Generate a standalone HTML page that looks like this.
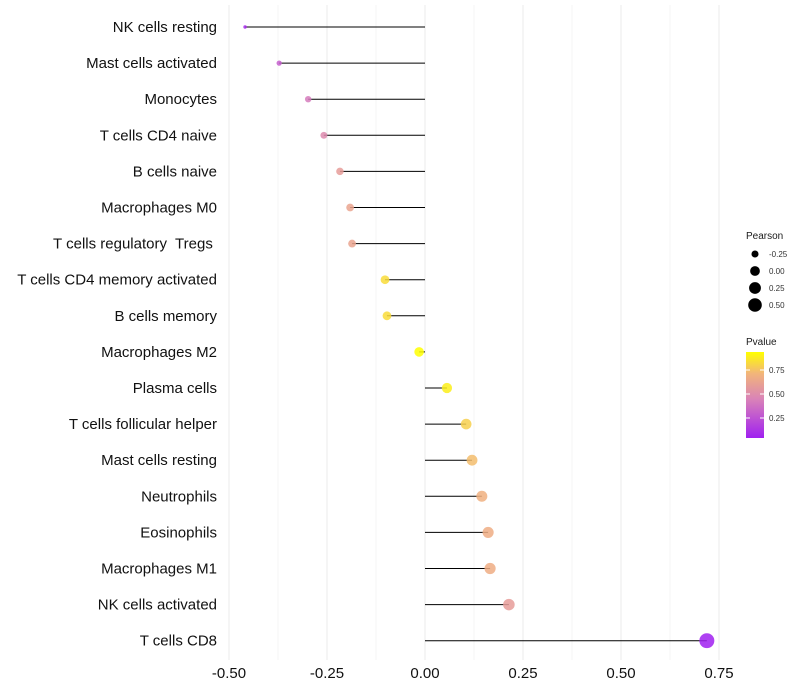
<!DOCTYPE html>
<html><head><meta charset="utf-8"><style>
body{margin:0;background:#fff;font-family:"Liberation Sans",sans-serif}
svg{display:block}
text{white-space:pre}
</style></head><body>
<svg id="chart" width="800" height="700" xmlns="http://www.w3.org/2000/svg">
<g id="grid"></g>
<g id="lines"></g>
<g id="dots"></g>
<g id="ylabels"></g>
<g id="xlabels"></g>
<g id="legend"></g>
<defs><linearGradient id="pg" x1="0" y1="1" x2="0" y2="0">
<stop offset="0" stop-color="#a020f0"/><stop offset="0.45" stop-color="#d982b8"/><stop offset="0.75" stop-color="#f2b57a"/><stop offset="1" stop-color="#ffff00"/></linearGradient></defs>
</svg>
<script>
const categories=["NK cells resting","Mast cells activated","Monocytes","T cells CD4 naive","B cells naive","Macrophages M0","T cells regulatory  Tregs ","T cells CD4 memory activated","B cells memory","Macrophages M2","Plasma cells","T cells follicular helper","Mast cells resting","Neutrophils","Eosinophils","Macrophages M1","NK cells activated","T cells CD8"];
const pearson=[-0.459,-0.372,-0.298,-0.258,-0.217,-0.191,-0.186,-0.102,-0.097,-0.015,0.056,0.105,0.12,0.145,0.161,0.166,0.214,0.719];
const pvalues=[0.08,0.3,0.42,0.5,0.6,0.65,0.65,0.85,0.85,0.97,0.9,0.82,0.77,0.72,0.7,0.7,0.6,0.03];
const xTicks=[-0.5,-0.25,0,0.25,0.5,0.75];
const xTickLabels=["-0.50","-0.25","0.00","0.25","0.50","0.75"];
const NS="http://www.w3.org/2000/svg";
const X=v=>425+v*392;
const Y=i=>27+i*36.1;
const R=v=>Math.sqrt(Math.max(2.5,3+(v+0.46)*45));
function col(p){
 const st=[[0.04,[160,32,240]],[0.45,[217,130,184]],[0.75,[242,181,122]],[0.94,[255,255,0]]];
 if(p<=st[0][0])return`rgb(${st[0][1]})`;
 for(let i=1;i<st.length;i++){if(p<=st[i][0]){const a=st[i-1],b=st[i],t=(p-a[0])/(b[0]-a[0]);return`rgb(${a[1].map((c,k)=>Math.round(c+(b[1][k]-c)*t))})`;}}
 return`rgb(${st[3][1]})`;
}
function mk(t,a,p){const e=document.createElementNS(NS,t);for(const k in a)e.setAttribute(k,a[k]);p.appendChild(e);return e;}
const grid=document.getElementById('grid');
for(let v=-0.5;v<=0.76;v+=0.125){const l=mk('line',{x1:X(v),x2:X(v),y1:5,y2:660,stroke:'#ebebeb','stroke-width':Math.abs((v*4)%1)<0.01?1:0.5},grid);

}
const lines=document.getElementById('lines'),dots=document.getElementById('dots'),yl=document.getElementById('ylabels'),xl=document.getElementById('xlabels');
categories.forEach((c,i)=>{
 const l=mk('line',{x1:X(0),x2:X(pearson[i]),y1:Y(i),y2:Y(i),stroke:'#000','stroke-width':1},lines);
 
 
 const d=mk('circle',{cx:X(pearson[i]),cy:Y(i),r:R(pearson[i]),fill:col(pvalues[i]),opacity:0.85},dots);
 
 
 const t=mk('text',{x:217,y:Y(i)+5,'text-anchor':'end','font-size':15,fill:'#111'},yl);t.textContent=c;
 
 
});
xTicks.forEach((v,i)=>{const t=mk('text',{x:X(v),y:678,'text-anchor':'middle','font-size':15,fill:'#111'},xl);t.textContent=xTickLabels[i];

});
const lg=document.getElementById('legend');
const sizeVals=[-0.25,0,0.25,0.5];
let t=mk('text',{x:746,y:239,'font-size':10,fill:'#1a1a1a'},lg);t.textContent='Pearson';


sizeVals.forEach((v,i)=>{const c=mk('circle',{cx:755,cy:254+i*17,r:R(v),fill:'#000'},lg);


const tt=mk('text',{x:769,y:257+i*17,'font-size':8,fill:'#333'},lg);tt.textContent=sizeVals[i]===0?'0.00':sizeVals[i].toFixed(2);

});
t=mk('text',{x:746,y:345,'font-size':10,fill:'#1a1a1a'},lg);t.textContent='Pvalue';


const bar=mk('rect',{x:746,y:352,width:18,height:86,fill:'url(#pg)'},lg);


[0.75,0.5,0.25].forEach(v=>{const yy=418-(v-0.25)*96;
mk('line',{x1:746,x2:750,y1:yy,y2:yy,stroke:'#fff'},lg);mk('line',{x1:760,x2:764,y1:yy,y2:yy,stroke:'#fff'},lg);
const tt=mk('text',{x:769,y:yy+3,'font-size':8,fill:'#333'},lg);tt.textContent=v.toFixed(2);

});
</script>
</body></html>
